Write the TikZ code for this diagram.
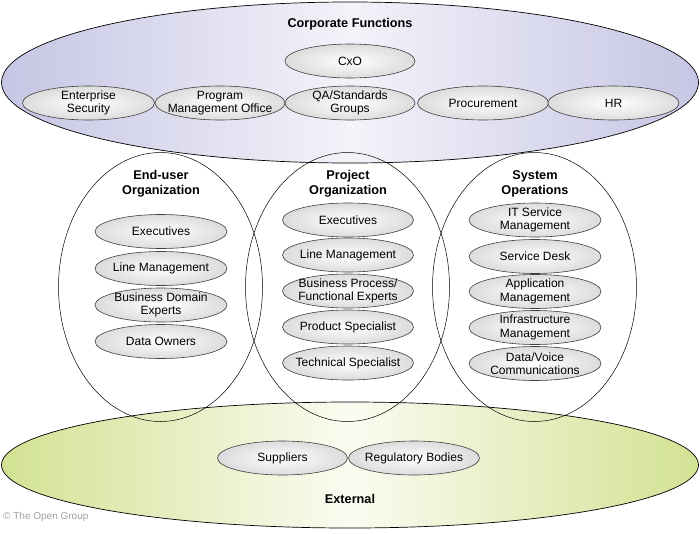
\documentclass[tikz,border=0pt]{standalone}
\usepackage{fontspec}
\setmainfont{Liberation Sans}
\usetikzlibrary{shapes.geometric}
\definecolor{lav}{HTML}{C6C5E4}
\definecolor{lavlight}{HTML}{F3F3FA}
\definecolor{lime}{HTML}{D2E293}
\definecolor{limelight}{HTML}{FBFBF1}
\definecolor{sgray}{HTML}{DCDCDC}
\definecolor{cpy}{HTML}{A0A0A0}
\tikzset{
  bigell/.style={shape=ellipse, draw=black, line width=0.7pt, inner sep=0pt},
  colell/.style={shape=ellipse, draw=black, line width=0.5pt, inner sep=0pt, minimum width=204, minimum height=269},
  ebox/.style={shape=ellipse, draw=black!75, line width=0.6pt, inner xsep=-22pt, inner ysep=-9pt,
    minimum width=132, minimum height=34, inner color=white, outer color=sgray,
    align=center, font=\fontsize{12}{13.5}\selectfont},
  ttl/.style={align=center, font=\fontsize{12.7}{15}\selectfont\bfseries, inner sep=0pt}
}
\begin{document}
\begin{tikzpicture}[x=1pt,y=-1pt]
\useasboundingbox[fill=white] (0,0) rectangle (700,533);
% big ellipses
\node[bigell, minimum width=697, minimum height=161, left color=lav, right color=lav, middle color=lavlight] (corp) at (350,82.5) {};
\node[bigell, minimum width=697, minimum height=126, left color=lime, right color=lime, middle color=limelight] (ext) at (350,465) {};
% columns
\node[colell] (eu) at (160.5,287) {};
\node[colell] (po) at (347.5,287) {};
\node[colell] (so) at (534.5,287) {};
% titles
\node[ttl] (tcorp) at (350,24) {Corporate Functions};
\node[ttl] (teu) at (161,184) {End-user\\Organization};
\node[ttl] (tpo) at (348,184) {Project\\Organization};
\node[ttl] (tso) at (535,183.5) {System\\Operations};
\node[ttl] (text) at (350,499) {External};
% corporate
\node[ebox, minimum width=130] (cxo) at (350,61) {CxO};
\node[ebox] (es) at (88.5,103) {Enterprise\\Security};
\node[ebox, minimum width=130] (pmo) at (220,103) {Program\\Management Office};
\node[ebox, minimum width=130] (qa) at (350,103) {QA/Standards\\Groups};
\node[ebox, minimum width=131] (proc) at (483,103) {Procurement};
\node[ebox, minimum width=131] (hr) at (613.5,103) {HR};
% end-user
\node[ebox] (eu1) at (161,231.5) {Executives};
\node[ebox] (eu2) at (161,268.5) {Line Management};
\node[ebox] (eu3) at (161,305) {Business Domain\\Experts};
\node[ebox] (eu4) at (161,341.5) {Data Owners};
% project
\node[ebox, minimum width=131] (po1) at (348,220) {Executives};
\node[ebox, minimum width=131] (po2) at (348,255) {Line Management};
\node[ebox, minimum width=131] (po3) at (348,291) {Business Process/\\Functional Experts};
\node[ebox, minimum width=131] (po4) at (348,327) {Product Specialist};
\node[ebox, minimum width=131] (po5) at (348,363) {Technical Specialist};
% system operations
\node[ebox] (so1) at (535,220) {IT Service\\Management};
\node[ebox] (so2) at (535,256.5) {Service Desk};
\node[ebox] (so3) at (535,291.5) {Application\\Management};
\node[ebox] (so4) at (535,327.5) {Infrastructure\\Management};
\node[ebox] (so5) at (535,363.5) {Data/Voice\\Communications};
% external
\node[ebox, minimum width=130] (sup) at (282.5,458) {Suppliers};
\node[ebox, minimum width=131] (reg) at (414,458) {Regulatory Bodies};
% copyright
\node[anchor=west, inner sep=0pt, text=cpy, font=\fontsize{10}{12}\selectfont] (copy) at (3,516.5) {© The Open Group};
\end{tikzpicture}
\end{document}
